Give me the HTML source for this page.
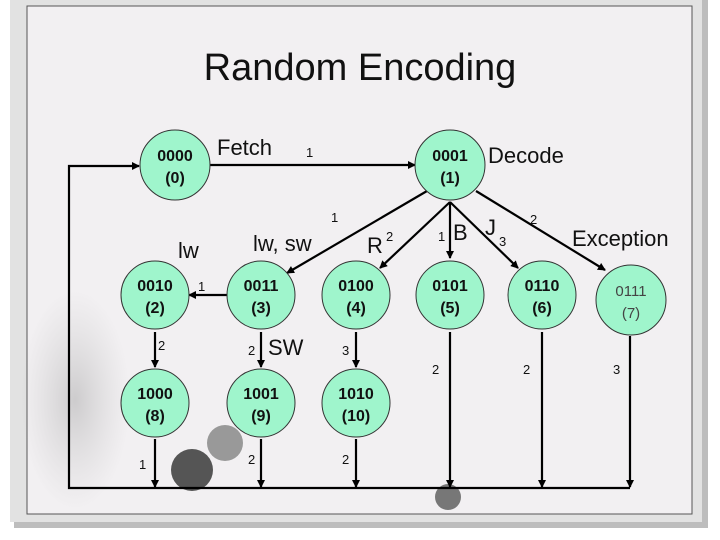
<!DOCTYPE html>
<html><head><meta charset="utf-8"><style>
html,body{margin:0;padding:0;background:#fff;}
svg{display:block;}
</style></head><body>
<svg width="720" height="540" viewBox="0 0 720 540" xmlns="http://www.w3.org/2000/svg" font-family="Liberation Sans, Arial, sans-serif">
<defs>
<marker id="a" markerWidth="8" markerHeight="8" refX="7" refY="4" orient="auto" markerUnits="userSpaceOnUse"><path d="M0,0 L8,4 L0,8 z" fill="#000"/></marker>
<radialGradient id="bam" cx="0.5" cy="0.5" r="0.5"><stop offset="0" stop-color="#888" stop-opacity="0.35"/><stop offset="1" stop-color="#aaa" stop-opacity="0"/></radialGradient>
</defs>
<rect x="0" y="0" width="720" height="540" fill="#fff"/>
<rect x="14" y="0" width="694" height="528" fill="#bdbdbd"/>
<rect x="10" y="0" width="692" height="522" fill="#e2e2e2"/>
<rect x="27" y="6" width="665" height="508" fill="#f2f0f2" stroke="#555" stroke-width="1"/>
<ellipse cx="75" cy="400" rx="55" ry="110" fill="url(#bam)"/>
<circle cx="192" cy="470" r="21" fill="#555"/>
<circle cx="225" cy="443" r="18" fill="#999"/>
<circle cx="448" cy="497" r="13" fill="#777"/>
<text x="360" y="80" font-size="38" text-anchor="middle" fill="#111">Random Encoding</text>
<g stroke="#000" stroke-width="2.2" fill="none">
<polyline points="630,488 69,488 69,166 139,166" marker-end="url(#a)"/>
<line x1="210" y1="165" x2="415" y2="165" marker-end="url(#a)"/>
<line x1="427" y1="191" x2="287" y2="273" marker-end="url(#a)"/>
<line x1="450" y1="202" x2="380" y2="268" marker-end="url(#a)"/>
<line x1="450" y1="202" x2="450" y2="258" marker-end="url(#a)"/>
<line x1="450" y1="202" x2="518" y2="268" marker-end="url(#a)"/>
<line x1="476" y1="191" x2="605" y2="270" marker-end="url(#a)"/>
<line x1="227" y1="295" x2="189" y2="295" marker-end="url(#a)"/>
<line x1="155" y1="332" x2="155" y2="367" marker-end="url(#a)"/>
<line x1="261" y1="332" x2="261" y2="367" marker-end="url(#a)"/>
<line x1="356" y1="332" x2="356" y2="367" marker-end="url(#a)"/>
<line x1="155" y1="439" x2="155" y2="487" marker-end="url(#a)"/>
<line x1="261" y1="439" x2="261" y2="487" marker-end="url(#a)"/>
<line x1="356" y1="439" x2="356" y2="487" marker-end="url(#a)"/>
<line x1="450" y1="332" x2="450" y2="487" marker-end="url(#a)"/>
<line x1="542" y1="332" x2="542" y2="487" marker-end="url(#a)"/>
<line x1="630" y1="336" x2="630" y2="487" marker-end="url(#a)"/>
</g>
<g fill="#9ff5cc" stroke="#333" stroke-width="1">
<circle cx="175" cy="165" r="35"/>
<circle cx="450" cy="165" r="35"/>
<circle cx="155" cy="295" r="34"/>
<circle cx="261" cy="295" r="34"/>
<circle cx="356" cy="295" r="34"/>
<circle cx="450" cy="295" r="34"/>
<circle cx="542" cy="295" r="34"/>
<circle cx="631" cy="300" r="35"/>
<circle cx="155" cy="403" r="34"/>
<circle cx="261" cy="403" r="34"/>
<circle cx="356" cy="403" r="34"/>
</g>
<g font-size="16" font-weight="bold" text-anchor="middle" fill="#111">
<text x="175" y="161">0000</text><text x="175" y="183">(0)</text>
<text x="450" y="161">0001</text><text x="450" y="183">(1)</text>
<text x="155" y="291">0010</text><text x="155" y="313">(2)</text>
<text x="261" y="291">0011</text><text x="261" y="313">(3)</text>
<text x="356" y="291">0100</text><text x="356" y="313">(4)</text>
<text x="450" y="291">0101</text><text x="450" y="313">(5)</text>
<text x="542" y="291">0110</text><text x="542" y="313">(6)</text>
<text x="155" y="399">1000</text><text x="155" y="421">(8)</text>
<text x="261" y="399">1001</text><text x="261" y="421">(9)</text>
<text x="356" y="399">1010</text><text x="356" y="421">(10)</text>
</g>
<g font-size="15" text-anchor="middle" fill="#444">
<text x="631" y="296">0111</text><text x="631" y="318">(7)</text>
</g>
<g font-size="22" fill="#111">
<text x="217" y="155">Fetch</text>
<text x="488" y="163">Decode</text>
<text x="253" y="251">lw, sw</text>
<text x="178" y="258">lw</text>
<text x="367" y="253">R</text>
<text x="453" y="240">B</text>
<text x="485" y="235">J</text>
<text x="572" y="246">Exception</text>
<text x="268" y="355">SW</text>
</g>
<g font-size="13" fill="#111">
<text x="306" y="157">1</text>
<text x="331" y="222">1</text>
<text x="386" y="241">2</text>
<text x="438" y="241">1</text>
<text x="499" y="246">3</text>
<text x="530" y="224">2</text>
<text x="198" y="291">1</text>
<text x="158" y="350">2</text>
<text x="248" y="355">2</text>
<text x="342" y="355">3</text>
<text x="432" y="374">2</text>
<text x="523" y="374">2</text>
<text x="613" y="374">3</text>
<text x="139" y="469">1</text>
<text x="248" y="464">2</text>
<text x="342" y="464">2</text>
</g>
</svg>
</body></html>
